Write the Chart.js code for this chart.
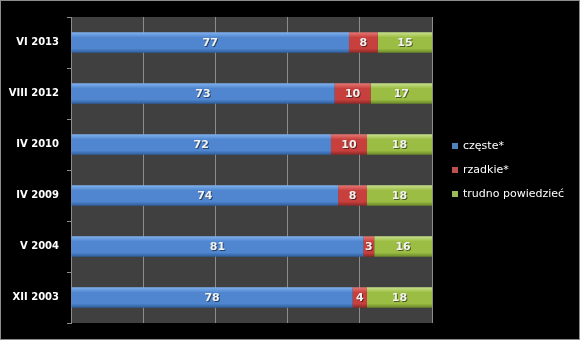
<!DOCTYPE html>
<html>
<head>
<meta charset="utf-8">
<script src="https://cdn.jsdelivr.net/npm/chart.js@4"></script>
<style>
  html, body { margin: 0; padding: 0; background: #000; }
  #wrap { width: 580px; height: 340px; }
</style>
</head>
<body>
<div id="wrap"><canvas id="chart" width="580" height="340"></canvas></div>
<script>
// Data (percent)
const categories = ['VI 2013', 'VIII 2012', 'IV 2010', 'IV 2009', 'V 2004', 'XII 2003'];
const czeste = [77, 73, 72, 74, 81, 78];
const rzadkie = [8, 10, 10, 8, 3, 4];
const trudno = [15, 17, 18, 18, 16, 18];
const seriesNames = ['częste*', 'rzadkie*', 'trudno powiedzieć'];
const xTicks = [0, 20, 40, 60, 80, 100];

const palette = [
  { top: '#7fb0ee', mid: '#4f86cf', bot: '#2f5f9f', key: '#4f81bd' },
  { top: '#e47673', mid: '#c8403d', bot: '#8f2a28', key: '#c0504d' },
  { top: '#c6e08a', mid: '#9cbd44', bot: '#6c8a2a', key: '#9bbb59' }
];

// glossy vertical gradient across each bar's thickness
function gloss(i) {
  return (ctx) => {
    const chart = ctx.chart;
    const y = chart.scales && chart.scales.y;
    if (!y || ctx.dataIndex == null) return palette[i].mid;
    const cy = y.getPixelForValue(ctx.dataIndex);
    if (!isFinite(cy)) return palette[i].mid;
    const g = chart.ctx.createLinearGradient(0, cy - 10, 0, cy + 10);
    g.addColorStop(0, palette[i].top);
    g.addColorStop(0.25, palette[i].mid);
    g.addColorStop(0.8, palette[i].mid);
    g.addColorStop(1, palette[i].bot);
    return g;
  };
}

const plotBg = {
  id: 'plotBg',
  beforeDraw(chart) {
    const { ctx, chartArea: a } = chart;
    ctx.save();
    ctx.fillStyle = '#000';
    ctx.fillRect(0, 0, chart.width, chart.height);
    ctx.fillStyle = '#404040';
    ctx.fillRect(a.left, a.top, a.right - a.left, a.bottom - a.top);
    ctx.restore();
  },
  afterDraw(chart) {
    const ctx = chart.ctx;
    ctx.save();
    ctx.strokeStyle = '#8c8c8c';
    ctx.lineWidth = 1;
    ctx.strokeRect(0.5, 0.5, chart.width - 1, chart.height - 1);
    ctx.restore();
  }
};

const valueLabels = {
  id: 'valueLabels',
  afterDatasetsDraw(chart) {
    const ctx = chart.ctx;
    ctx.save();
    ctx.font = 'bold 11px "DejaVu Sans", sans-serif';
    ctx.textAlign = 'center';
    ctx.textBaseline = 'middle';
    chart.data.datasets.forEach((ds, di) => {
      chart.getDatasetMeta(di).data.forEach((el, i) => {
        const x = (el.x + el.base) / 2;
        ctx.fillStyle = 'rgba(0,0,0,0.5)';
        ctx.fillText(ds.data[i], x + 1, el.y + 2);
        ctx.fillStyle = '#f2f2f2';
        ctx.fillText(ds.data[i], x, el.y + 1);
      });
    });
    ctx.restore();
  }
};

const sideLegend = {
  id: 'sideLegend',
  afterDraw(chart) {
    const ctx = chart.ctx;
    ctx.save();
    ctx.font = '11px "DejaVu Sans", sans-serif';
    ctx.textBaseline = 'middle';
    seriesNames.forEach((name, i) => {
      const y = 146 + i * 24;
      ctx.fillStyle = palette[i].key;
      ctx.fillRect(452, y - 3, 6, 6);
      ctx.fillStyle = '#ffffff';
      ctx.fillText(name, 463, y);
    });
    ctx.restore();
  }
};

new Chart(document.getElementById('chart'), {
  type: 'bar',
  data: {
    labels: categories,
    datasets: [
      { label: seriesNames[0], data: czeste, backgroundColor: gloss(0) },
      { label: seriesNames[1], data: rzadkie, backgroundColor: gloss(1) },
      { label: seriesNames[2], data: trudno, backgroundColor: gloss(2) }
    ]
  },
  options: {
    indexAxis: 'y',
    responsive: false,
    animation: false,
    layout: { padding: { top: 17, bottom: 17, left: 0, right: 148 } },
    datasets: { bar: { categoryPercentage: 1, barPercentage: 0.4 } },
    plugins: { legend: { display: false }, tooltip: { enabled: false } },
    scales: {
      x: {
        stacked: true,
        min: 0,
        max: 100,
        afterBuildTicks: (s) => { s.ticks = xTicks.map(v => ({ value: v })); },
        ticks: { display: false },
        grid: { color: '#8c8c8c', drawTicks: false },
        border: { display: false }
      },
      y: {
        stacked: true,
        afterFit: (s) => { s.width = 71; },
        ticks: {
          color: '#ffffff',
          padding: 8,
          font: { family: '"DejaVu Sans", sans-serif', size: 10, weight: 'bold' }
        },
        grid: { drawOnChartArea: false, drawTicks: true, tickLength: 4, color: '#8c8c8c', offset: true },
        border: { display: true, color: '#8c8c8c' }
      }
    }
  },
  plugins: [plotBg, valueLabels, sideLegend]
});
</script>
</body>
</html>
